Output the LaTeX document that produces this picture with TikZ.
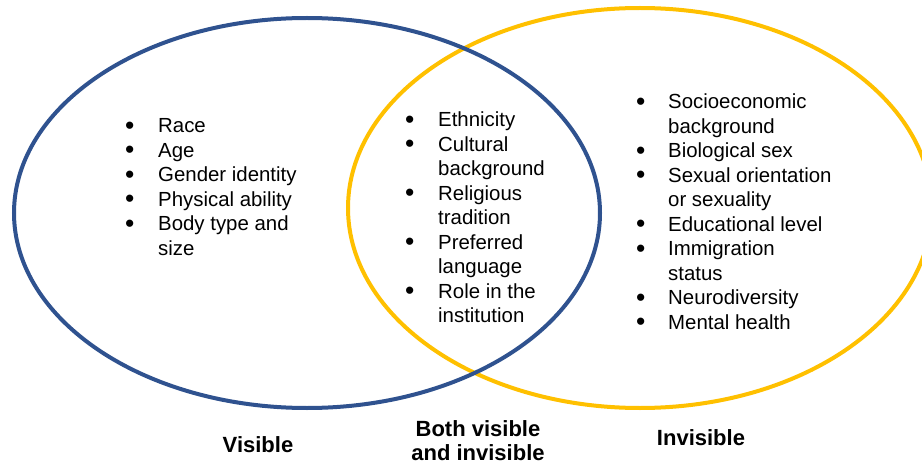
\documentclass[tikz,border=0pt]{standalone}
\usepackage{fontspec}
\setmainfont{Liberation Sans}
\usepackage{xcolor}
\definecolor{visblue}{RGB}{47,82,143}
\definecolor{invyellow}{RGB}{255,192,0}
\usepackage{tikz}
\usetikzlibrary{positioning}

\newcommand{\bul}{\raisebox{-1.2pt}{\scalebox{1.3}{\textbullet}}}

\begin{document}
\begin{tikzpicture}[x=1pt, y=-1pt,
    ring/.style={line width=4pt},
    itemlist/.style={anchor=base west, inner sep=0pt, font=\fontsize{20.4}{24.5}\selectfont},
    heading/.style={anchor=base, inner sep=0pt, font=\fontsize{22}{24}\selectfont\bfseries}]

    \useasboundingbox (0,0) rectangle (922,468);
    \clip (0,0) rectangle (922,468);

    % Circles
    \draw [ring, invyellow] (640,208) ellipse [x radius=292, y radius=200];
    \draw [ring, visblue] (307,213) ellipse [x radius=293, y radius=195];

    % Visible only
    \node [itemlist] (visiblelist) at (125,133) {\begin{tabular}[t]{@{}p{33pt}@{}l@{}}
        \bul & Race\\
        \bul & Age\\
        \bul & Gender identity\\
        \bul & Physical ability\\
        \bul & Body type and\\
             & size
    \end{tabular}};

    % Both
    \node [itemlist] (bothlist) at (405,127) {\begin{tabular}[t]{@{}p{33pt}@{}l@{}}
        \bul & Ethnicity\\
        \bul & Cultural\\
             & background\\
        \bul & Religious\\
             & tradition\\
        \bul & Preferred\\
             & language\\
        \bul & Role in the\\
             & institution
    \end{tabular}};

    % Invisible only
    \node [itemlist] (invisiblelist) at (636,109) {\begin{tabular}[t]{@{}p{32pt}@{}l@{}}
        \bul & Socioeconomic\\
             & background\\
        \bul & Biological sex\\
        \bul & Sexual orientation\\
             & or sexuality\\
        \bul & Educational level\\
        \bul & Immigration\\
             & status\\
        \bul & Neurodiversity\\
        \bul & Mental health
    \end{tabular}};

    % Headings
    \node [heading] (visible) at (258,452) {Visible};
    \node [heading] (both) at (478,436) {\begin{tabular}[t]{@{}c@{}}Both visible\\and invisible\end{tabular}};
    \node [heading] (invisible) at (701,445) {Invisible};
\end{tikzpicture}
\end{document}
